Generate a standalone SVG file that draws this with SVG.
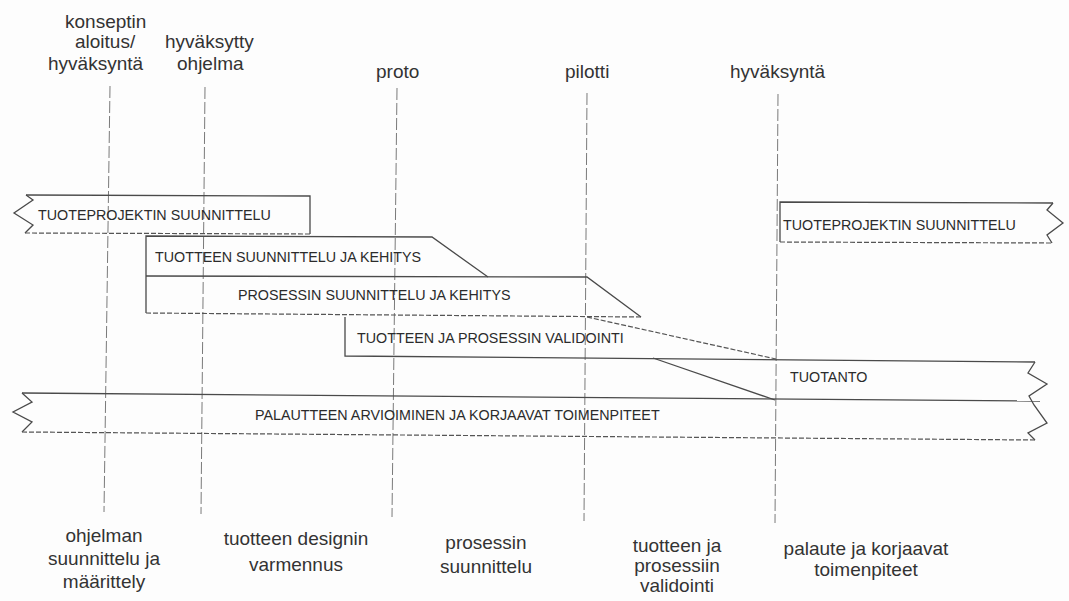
<svg xmlns="http://www.w3.org/2000/svg" width="1069" height="601" viewBox="0 0 1069 601">
<style>
.bg{fill:#fdfdfd}
.ln{fill:none;stroke:#4a4a4a;stroke-width:1.3;stroke-linejoin:miter}
.dsh{fill:none;stroke:#555;stroke-width:1.2;stroke-dasharray:5 2}
.vl{fill:none;stroke:#7a7a7a;stroke-width:1;stroke-dasharray:12 3}
.bt{font-family:"Liberation Sans",Arial,sans-serif;font-size:14.3px;fill:#2b2b2b}
.lb{font-family:"Liberation Sans",Arial,sans-serif;font-size:19px;fill:#333}
.mid{text-anchor:middle}
</style>
<rect class="bg" x="0" y="0" width="1069" height="601"/>

<g id="milestones">
<line class="vl" x1="110" y1="86" x2="104" y2="512"/>
<line class="vl" x1="205" y1="87" x2="201" y2="514"/>
<line class="vl" x1="397" y1="88" x2="392" y2="517"/>
<line class="vl" x1="587" y1="93" x2="584" y2="521"/>
<line class="vl" x1="778" y1="94" x2="775" y2="523"/>
</g>

<g id="milestone-labels">
<text class="lb" x="65" y="28">konseptin</text>
<text class="lb" x="75" y="48">aloitus/</text>
<text class="lb" x="48" y="70">hyväksyntä</text>
<text class="lb" x="165" y="48">hyväksytty</text>
<text class="lb" x="177" y="70">ohjelma</text>
<text class="lb" x="376" y="78">proto</text>
<text class="lb" x="565" y="78">pilotti</text>
<text class="lb" x="730" y="78">hyväksyntä</text>
</g>

<g id="band-tuoteprojekti-1">
<polyline class="ln" points="26,195 310,196 310,234"/>
<polyline class="ln" points="26,195 33,200 14,213 33,225 25,233"/>
<line class="dsh" x1="25" y1="233" x2="310" y2="234"/>
<text class="bt" x="38" y="220">TUOTEPROJEKTIN SUUNNITTELU</text>
</g>

<g id="band-tuotteen-suunnittelu">
<polyline class="ln" points="146,313 146,236 432,237 488,277"/>
<text class="bt" x="155" y="262">TUOTTEEN SUUNNITTELU JA KEHITYS</text>
</g>

<g id="band-prosessin-suunnittelu">
<polyline class="ln" points="146,276 587,277 641,317"/>
<line class="dsh" x1="146" y1="313" x2="641" y2="317"/>
<text class="bt" x="238" y="300">PROSESSIN SUUNNITTELU JA KEHITYS</text>
</g>

<g id="band-validointi">
<polyline class="ln" points="345,317 345,356 1035,362"/>
<line class="dsh" x1="587" y1="317" x2="776" y2="359"/>
<text class="bt" x="357" y="343">TUOTTEEN JA PROSESSIN VALIDOINTI</text>
</g>

<g id="band-tuotanto">
<line class="ln" x1="653" y1="358" x2="775" y2="400"/>
<text class="bt" x="790" y="382">TUOTANTO</text>
</g>

<g id="band-palaute">
<line class="ln" x1="22" y1="393" x2="1040" y2="401"/>
<polyline class="ln" points="22,393 32,402 13,412 32,422 22,432"/>
<polyline class="ln" points="1035,362 1028,373 1047,384 1029,396 1034,405 1047,423 1028,433 1035,440"/>
<line class="dsh" x1="22" y1="432" x2="1035" y2="440"/>
<text class="bt" x="255" y="420">PALAUTTEEN ARVIOIMINEN JA KORJAAVAT TOIMENPITEET</text>
</g>

<g id="band-tuoteprojekti-2">
<polyline class="ln" points="780,242 780,202 1053,203"/>
<polyline class="ln" points="1053,203 1047,210 1063,223 1047,235 1052,243"/>
<line class="dsh" x1="780" y1="242" x2="1052" y2="243"/>
<text class="bt" x="783" y="230">TUOTEPROJEKTIN SUUNNITTELU</text>
</g>

<g id="phase-labels">
<text class="lb mid" x="104" y="542">ohjelman</text>
<text class="lb mid" x="104" y="565">suunnittelu ja</text>
<text class="lb mid" x="104" y="588">määrittely</text>
<text class="lb mid" x="296" y="545">tuotteen designin</text>
<text class="lb mid" x="296" y="571">varmennus</text>
<text class="lb mid" x="486" y="549">prosessin</text>
<text class="lb mid" x="486" y="573">suunnittelu</text>
<text class="lb mid" x="677" y="552">tuotteen ja</text>
<text class="lb mid" x="677" y="572">prosessiin</text>
<text class="lb mid" x="677" y="592">validointi</text>
<text class="lb mid" x="866" y="555">palaute ja korjaavat</text>
<text class="lb mid" x="866" y="576">toimenpiteet</text>
</g>
</svg>
